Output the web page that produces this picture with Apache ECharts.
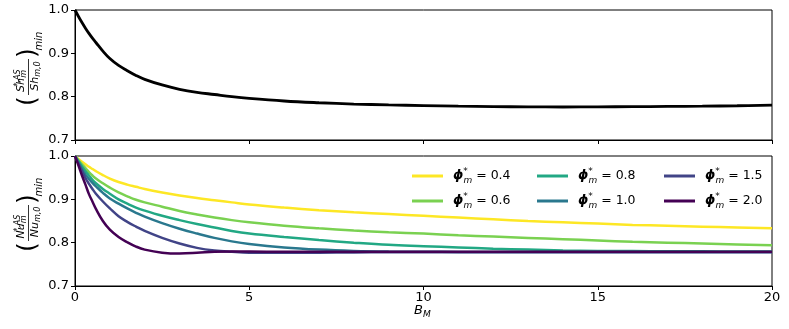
<!DOCTYPE html>
<html>
<head>
<meta charset="utf-8">
<script src="https://cdn.jsdelivr.net/npm/echarts@6/dist/echarts.min.js"></script>
<style>
  html, body { margin: 0; padding: 0; background: #fff; }
  #chart { width: 789px; height: 329px; }
</style>
</head>
<body>
<div id="chart"></div>
<script>
// B_M sample points (shared by every curve)
var xs = [0, 0.1, 0.2, 0.3, 0.4, 0.5, 0.6, 0.8, 1, 1.25, 1.5, 1.75, 2, 2.5, 3, 3.5, 4, 4.5, 5,
          6, 7, 8, 9, 10, 11, 12, 13, 14, 15, 16, 17, 18, 19, 20];

// top panel: Sh ratio
var shRatio = [1.0, 0.985, 0.971, 0.958, 0.946, 0.935, 0.925, 0.905, 0.888, 0.872, 0.860, 0.849, 0.840,
               0.827, 0.817, 0.810, 0.805, 0.800, 0.796,
               0.790, 0.786, 0.783, 0.781, 0.7795, 0.778, 0.777, 0.7765, 0.7762, 0.7765, 0.777, 0.7775, 0.778, 0.779, 0.7805];

// bottom panel: Nu ratio, one list per phi
var phis = ['0.4', '0.6', '0.8', '1.0', '1.5', '2.0'];
var nu04 = [1.0, 0.993, 0.987, 0.981, 0.975, 0.970, 0.965, 0.956, 0.948, 0.940, 0.934, 0.929, 0.924,
            0.916, 0.909, 0.903, 0.898, 0.893, 0.888,
            0.881, 0.875, 0.870, 0.866, 0.862, 0.858, 0.854, 0.850, 0.847, 0.844, 0.841, 0.839, 0.837, 0.835, 0.833];
var nu06 = [1.0, 0.990, 0.981, 0.972, 0.963, 0.955, 0.948, 0.937, 0.927, 0.916, 0.907, 0.899, 0.893,
            0.883, 0.873, 0.865, 0.858, 0.852, 0.847,
            0.839, 0.833, 0.828, 0.824, 0.821, 0.817, 0.814, 0.811, 0.808, 0.805, 0.802, 0.800, 0.798, 0.796, 0.794];
var nu08 = [1.0, 0.988, 0.976, 0.965, 0.955, 0.945, 0.937, 0.924, 0.913, 0.900, 0.890, 0.881, 0.874,
            0.862, 0.852, 0.843, 0.835, 0.827, 0.821,
            0.813, 0.806, 0.800, 0.795, 0.792, 0.789, 0.786, 0.784, 0.782, 0.781, 0.7805, 0.780, 0.780, 0.7795, 0.7795];
var nu10 = [1.0, 0.984, 0.970, 0.957, 0.947, 0.938, 0.930, 0.915, 0.902, 0.890, 0.879, 0.869, 0.860,
            0.845, 0.832, 0.821, 0.811, 0.803, 0.797,
            0.789, 0.784, 0.781, 0.7795, 0.779, 0.7787, 0.7785, 0.7785, 0.7785, 0.7785, 0.7785, 0.7785, 0.7785, 0.7785, 0.7785];
var nu15 = [1.0, 0.982, 0.965, 0.949, 0.936, 0.924, 0.913, 0.895, 0.879, 0.861, 0.848, 0.837, 0.827,
            0.811, 0.798, 0.788, 0.782, 0.779, 0.777,
            0.7765, 0.777, 0.7775, 0.778, 0.778, 0.778, 0.778, 0.778, 0.778, 0.778, 0.778, 0.778, 0.778, 0.778, 0.778];
var nu20 = [1.0, 0.978, 0.955, 0.934, 0.912, 0.895, 0.878, 0.850, 0.830, 0.813, 0.801, 0.791, 0.784,
            0.777, 0.775, 0.7765, 0.779, 0.7795, 0.7795,
            0.779, 0.779, 0.779, 0.779, 0.779, 0.779, 0.779, 0.779, 0.779, 0.779, 0.779, 0.779, 0.779, 0.779, 0.779];
var nuAll = [nu04, nu06, nu08, nu10, nu15, nu20];
var colors = ['#fde725', '#7ad151', '#22a884', '#2a788e', '#414487', '#440154'];

var xTicks = [0, 5, 10, 15, 20];
var yTicks = [0.7, 0.8, 0.9, 1.0];

var FONT = 'DejaVu Sans';

function pts(ys) {
    return xs.map(function (x, i) { return [x, ys[i]]; });
}

// legend label: phi with * over subscript m
var legRich = {
    p: { fontFamily: FONT, fontSize: 13, fontStyle: 'italic', fontWeight: 'bold', lineHeight: 18, padding: [0, 0, 0, 5] },
    sup: { fontFamily: FONT, fontSize: 9, verticalAlign: 'top', lineHeight: 11, width: 0.1 },
    sub: { fontFamily: FONT, fontSize: 9, fontStyle: 'italic', verticalAlign: 'bottom', lineHeight: 11 },
    t: { fontFamily: FONT, fontSize: 12.5, lineHeight: 18 }
};
function phiText(name) {
    return '{p|ϕ}{sup|*}{sub|m}{t| = ' + name + '}';
}

// rotated y label  ( X*,AS_m / X_m,0 )_min
function yLabel(cy, sym) {
    var rich = {
        i: { fontFamily: FONT, fontSize: 11, fontStyle: 'italic', lineHeight: 14, fill: '#000' },
        sup: { fontFamily: FONT, fontSize: 8, fontStyle: 'italic', verticalAlign: 'top', lineHeight: 9, width: 0.1, fill: '#000' },
        sub: { fontFamily: FONT, fontSize: 8, fontStyle: 'italic', verticalAlign: 'bottom', lineHeight: 9, fill: '#000' }
    };
    return {
        type: 'group', x: 28, y: cy, rotation: Math.PI / 2,
        children: [
            { type: 'text', x: -29, y: 0, style: { text: '(', fontFamily: FONT, fontSize: 25, fill: '#000', align: 'center', verticalAlign: 'middle' } },
            { type: 'text', x: -9, y: -7, style: { text: '{i|' + sym + '}{sup|*,AS}{sub|m}', rich: rich, align: 'center', verticalAlign: 'middle' } },
            { type: 'rect', shape: { x: -23, y: 0, width: 36, height: 0.8 }, style: { fill: '#000' } },
            { type: 'text', x: -4, y: 7, style: { text: '{i|' + sym + '}{sub|m,0}', rich: rich, align: 'center', verticalAlign: 'middle' } },
            { type: 'text', x: 19, y: 0, style: { text: ')', fontFamily: FONT, fontSize: 25, fill: '#000', align: 'center', verticalAlign: 'middle' } },
            { type: 'text', x: 31, y: 11, style: { text: 'min', fontFamily: FONT, fontSize: 10, fontStyle: 'italic', fill: '#000', align: 'center', verticalAlign: 'middle' } }
        ]
    };
}

function xAx(idx, showLabel) {
    return {
        type: 'value', gridIndex: idx, min: xTicks[0], max: xTicks[xTicks.length - 1], interval: 5,
        axisLine: { show: true, onZero: false, lineStyle: { color: '#000', width: 1 } },
        axisTick: { show: true, length: 4, lineStyle: { color: '#000' } },
        axisLabel: { show: showLabel, color: '#000', fontFamily: FONT, fontSize: 13, margin: 5 },
        splitLine: { show: false }
    };
}
function yAx(idx) {
    return {
        type: 'value', gridIndex: idx, min: yTicks[0], max: yTicks[yTicks.length - 1], interval: 0.1,
        axisLine: { show: true, lineStyle: { color: '#000', width: 1 } },
        axisTick: { show: true, length: 4, lineStyle: { color: '#000' } },
        axisLabel: { color: '#000', fontFamily: FONT, fontSize: 13, margin: 6,
            formatter: function (v) { return v.toFixed(1); } },
        splitLine: { show: false }
    };
}

var series = [{
    name: 'sh', type: 'line', xAxisIndex: 0, yAxisIndex: 0, data: pts(shRatio),
    showSymbol: false, smooth: 0.4,
    lineStyle: { color: '#000', width: 2.8 }, itemStyle: { color: '#000' }, silent: true
}];
phis.forEach(function (p, k) {
    series.push({
        name: p, type: 'line', xAxisIndex: 1, yAxisIndex: 1, data: pts(nuAll[k]),
        showSymbol: false, smooth: 0.4,
        lineStyle: { color: colors[k], width: 2.5 }, itemStyle: { color: colors[k] }, silent: true
    });
});

var legLeft = [407, 532, 659];
var legends = [0, 1, 2].map(function (c) {
    return {
        orient: 'vertical', left: legLeft[c], top: 162, itemWidth: 31, itemHeight: 3, itemGap: 7,
        icon: 'rect', selectedMode: false,
        data: [phis[2 * c], phis[2 * c + 1]],
        formatter: phiText,
        textStyle: { color: '#000', fontFamily: FONT, fontSize: 13, rich: legRich }
    };
});

var chart = echarts.init(document.getElementById('chart'), null, { renderer: 'canvas' });
chart.setOption({
    animation: false,
    backgroundColor: '#fff',
    grid: [
        { left: 75, right: 17, top: 10, height: 130, show: true, borderColor: '#000', borderWidth: 1 },
        { left: 75, right: 17, top: 156, height: 130, show: true, borderColor: '#000', borderWidth: 1 }
    ],
    xAxis: [xAx(0, false), xAx(1, true)],
    yAxis: [yAx(0), yAx(1)],
    legend: legends,
    series: series,
    graphic: [
        yLabel(72, 'Sh'),
        yLabel(218, 'Nu'),
        { type: 'text', left: 414, top: 304, style: {
            text: '{b|B}{s|M}', fill: '#000',
            rich: {
                b: { fontFamily: FONT, fontSize: 13, fontStyle: 'italic', lineHeight: 17, fill: '#000' },
                s: { fontFamily: FONT, fontSize: 9, fontStyle: 'italic', verticalAlign: 'bottom', lineHeight: 11, fill: '#000' }
            } } }
    ]
});
</script>
</body>
</html>
